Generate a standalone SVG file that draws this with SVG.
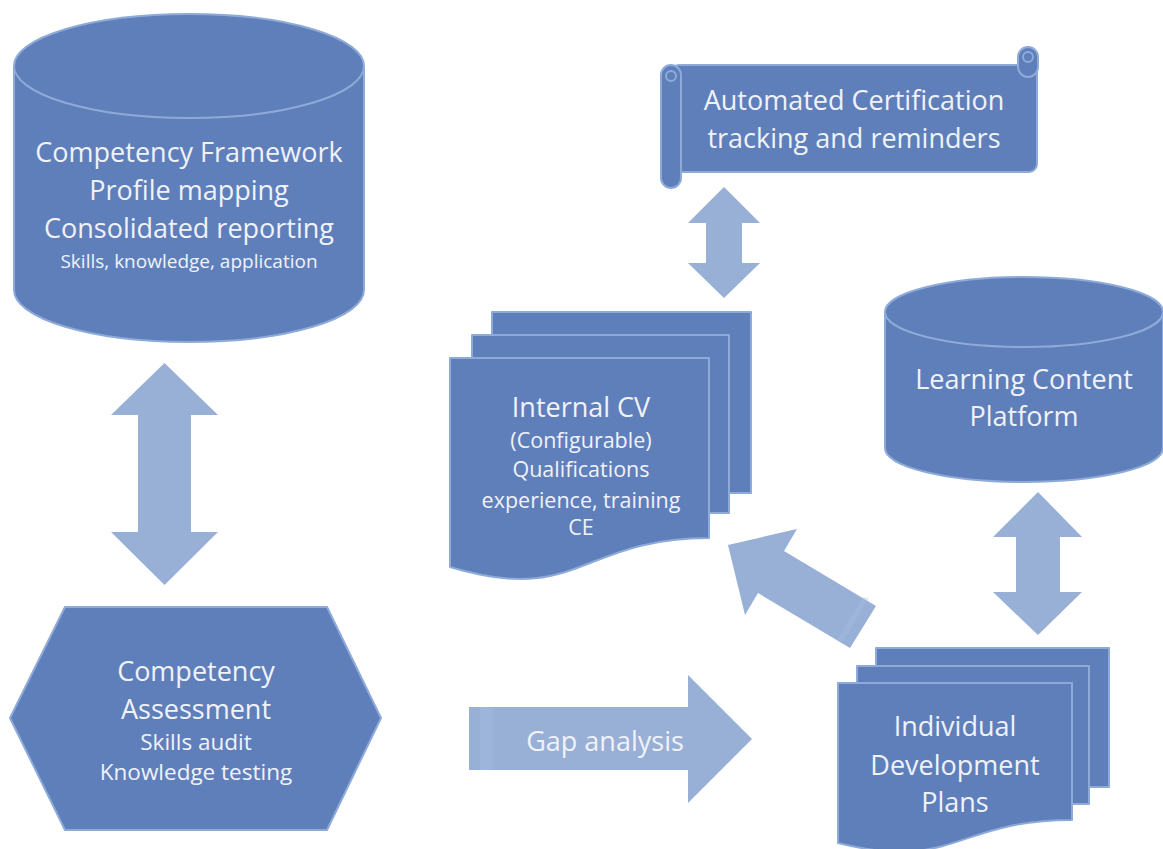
<svg xmlns="http://www.w3.org/2000/svg" width="1163" height="849" viewBox="0 0 1163 849">
  <style>
    .node { fill: #5f7fbb; stroke: #8eaad8; stroke-width: 2; stroke-linejoin: round; }
    .edge { fill: none; stroke: #8eaad8; stroke-width: 2; }
    .arrow { fill: #98afd6; }
    .band { fill: #a6bfe2; }
    text { font-family: "Open Sans", "Noto Sans", "DejaVu Sans", sans-serif; fill: #f0f2f8; text-anchor: middle; }
    .lg { font-size: 27px; }
    .md { font-size: 22.5px; }
    .sm { font-size: 21.5px; }
    .xs { font-size: 19px; }
  </style>
  <rect width="1163" height="849" fill="#ffffff"/>

  <g id="connectors">
    <polygon class="arrow" points="164.5,363 218,415 191,415 191,532 218,532 164.5,585 111,532 138,532 138,415 111,415"/>
    <polygon class="arrow" points="724,187 760,223 742,223 742,263 760,263 724,298 688,263 706,263 706,223 688,223"/>
    <polygon class="arrow" points="1038,492 1082,537 1060,537 1060,592 1082,592 1038,635 993,592 1016,592 1016,537 993,537"/>
    <polygon class="arrow" points="728,545 797,529 784,551 876,606 850,648 758,593 745,615"/>
    <polygon class="band" points="869,598 863,597 837,640 843,641" opacity="0.35"/>
    <g id="gap-analysis">
      <polygon class="arrow" points="469,707 688,707 688,675 752,739 688,803 688,770 469,770"/>
      <rect class="band" x="480" y="707" width="13" height="63" opacity="0.35"/>
      <text class="lg" x="605" y="751">Gap analysis</text>
    </g>
  </g>

  <g id="competency-framework">
    <path class="node" d="M14,66 A175,52 0 0 1 364,66 V290 A175,52 0 0 1 14,290 Z"/>
    <path class="edge" d="M14,66 A175,52 0 0 0 364,66"/>
    <text class="lg" x="189" y="162">Competency Framework</text>
    <text class="lg" x="189" y="200">Profile mapping</text>
    <text class="lg" x="189" y="238">Consolidated reporting</text>
    <text class="xs" x="189" y="268">Skills, knowledge, application</text>
  </g>

  <g id="competency-assessment">
    <polygon class="node" points="10,718 65,607 327,607 381,718 327,830 65,830"/>
    <text class="lg" x="196" y="681">Competency</text>
    <text class="lg" x="196" y="719">Assessment</text>
    <text class="md" x="196" y="750">Skills audit</text>
    <text class="md" x="196" y="780">Knowledge testing</text>
  </g>

  <g id="automated-certification">
    <rect class="node" x="671" y="65" width="366" height="107" rx="8"/>
    <rect class="node" x="1018" y="47" width="20" height="30" rx="10"/>
    <circle class="edge" cx="1028" cy="57" r="5"/>
    <rect class="node" x="661" y="65" width="20" height="123" rx="10"/>
    <circle class="edge" cx="671" cy="76" r="5"/>
    <text class="lg" x="854" y="110">Automated Certification</text>
    <text class="lg" x="854" y="148">tracking and reminders</text>
  </g>

  <g id="internal-cv">
    <rect class="node" x="492" y="312" width="259" height="181"/>
    <rect class="node" x="472" y="335" width="257" height="178"/>
    <path class="node" d="M450,358 H709 V538 C579.5,538 579.5,606 450,567 Z"/>
    <text class="lg" x="581" y="417">Internal CV</text>
    <text class="sm" x="581" y="448">(Configurable)</text>
    <text class="sm" x="581" y="477">Qualifications</text>
    <text class="sm" x="581" y="508">experience, training</text>
    <text class="sm" x="581" y="535">CE</text>
  </g>

  <g id="learning-content-platform">
    <path class="node" d="M885,312 A139,35 0 0 1 1163,312 V448 A139,34 0 0 1 885,448 Z"/>
    <path class="edge" d="M885,312 A139,35 0 0 0 1163,312"/>
    <text class="lg" x="1024" y="389">Learning Content</text>
    <text class="lg" x="1024" y="426">Platform</text>
  </g>

  <g id="individual-development-plans">
    <rect class="node" x="876" y="648" width="233" height="139"/>
    <rect class="node" x="857" y="666" width="232" height="138"/>
    <path class="node" d="M838,683 H1072 V820 C955,820 955,872 838,843 Z"/>
    <text class="lg" x="955" y="736">Individual</text>
    <text class="lg" x="955" y="775">Development</text>
    <text class="lg" x="955" y="812">Plans</text>
  </g>
</svg>
